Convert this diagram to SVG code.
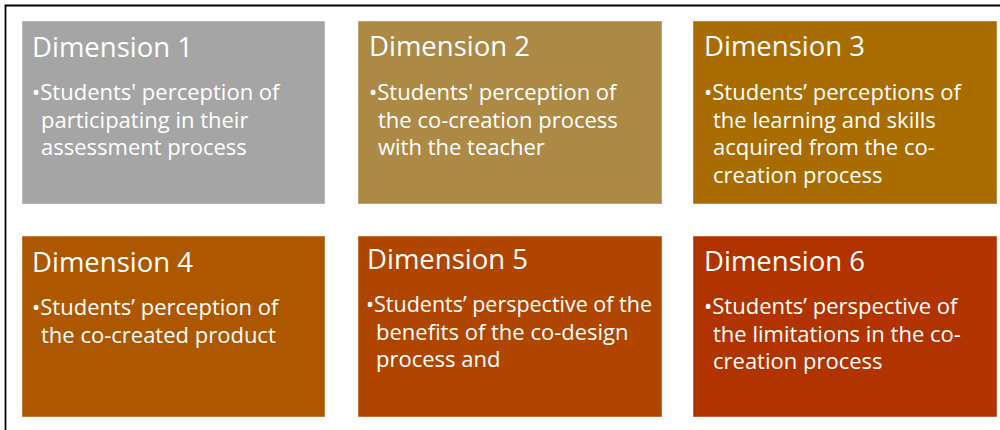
<svg xmlns="http://www.w3.org/2000/svg" width="1000" height="430" viewBox="0 0 1000 430">
  <style>
    .card { stroke: #ffffff; stroke-opacity: 0.45; stroke-width: 1; }
    .title { font-family: "Open Sans", "Liberation Sans", sans-serif; font-size: 27.5px; fill: #ffffff; }
    .body { font-family: "Open Sans", "Liberation Sans", sans-serif; font-size: 22px; fill: #ffffff; }
  </style>
  <rect width="1000" height="430" fill="#ffffff"/>
  <!-- frame lines along the top and left edges -->
  <path d="M5.5 430 V5.5 H1000" fill="none" stroke="#000000" stroke-width="1.8"/>

  <g id="connectors"/>

  <g id="dim1">
    <rect class="card" x="22" y="21" width="303" height="183" fill="#a5a5a5"/>
    <text class="title" x="32" y="57">Dimension 1</text>
    <text class="body" y="100"><tspan x="32">•Students' perception of</tspan><tspan x="41" dy="27.5">participating in their</tspan><tspan x="41" dy="27.5">assessment process</tspan></text>
  </g>

  <g id="dim2">
    <rect class="card" x="358" y="21" width="304" height="183" fill="#ac8945"/>
    <text class="title" x="369" y="56">Dimension 2</text>
    <text class="body" y="100"><tspan x="369">•Students' perception of</tspan><tspan x="378" dy="27.5">the co-creation process</tspan><tspan x="378" dy="27.5">with the teacher</tspan></text>
  </g>

  <g id="dim3">
    <rect class="card" x="693" y="21" width="304" height="183" fill="#a86c00"/>
    <text class="title" x="704" y="56">Dimension 3</text>
    <text class="body" y="100"><tspan x="704">•Students’ perceptions of</tspan><tspan x="713" dy="27.5">the learning and skills</tspan><tspan x="713" dy="27.5">acquired from the co-</tspan><tspan x="713" dy="27.5">creation process</tspan></text>
  </g>

  <g id="dim4">
    <rect class="card" x="22" y="236" width="303" height="181" fill="#ad5800"/>
    <text class="title" x="32" y="272">Dimension 4</text>
    <text class="body" y="315"><tspan x="32">•Students’ perception of</tspan><tspan x="41" dy="27.5">the co-created product</tspan></text>
  </g>

  <g id="dim5">
    <rect class="card" x="358" y="236" width="304" height="181" fill="#b04500"/>
    <text class="title" x="367" y="269">Dimension 5</text>
    <text class="body" y="312"><tspan x="366" textLength="286" lengthAdjust="spacingAndGlyphs">•Students’ perspective of the</tspan><tspan x="376" dy="27.5">benefits of the co-design</tspan><tspan x="376" dy="27.5">process and</tspan></text>
  </g>

  <g id="dim6">
    <rect class="card" x="693" y="236" width="304" height="181" fill="#b03300"/>
    <text class="title" x="704" y="271">Dimension 6</text>
    <text class="body" y="314"><tspan x="704">•Students’ perspective of</tspan><tspan x="713" dy="27.5">the limitations in the co-</tspan><tspan x="713" dy="27.5">creation process</tspan></text>
  </g>
</svg>
